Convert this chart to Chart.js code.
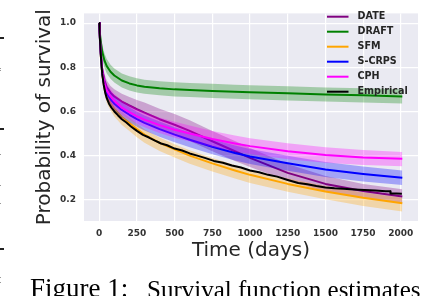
<!DOCTYPE html>
<html><head><meta charset="utf-8">
<script src="https://cdn.jsdelivr.net/npm/chart.js@4.4.1/dist/chart.umd.min.js"></script>
<style>
html,body{margin:0;padding:0;background:#fff;}
#wrap{position:relative;width:426px;height:296px;overflow:hidden;}
canvas{position:absolute;left:0;top:0;}
.cap{position:absolute;font-family:"Liberation Serif","Times New Roman",serif;color:#000;line-height:1;white-space:nowrap;}
.mk{position:absolute;background:#222;}
.dt{position:absolute;background:#999;width:1px;height:1px;left:0;}
</style></head>
<body><div id="wrap"><canvas id="c" width="426" height="296"></canvas>
<div class="cap" style="left:30px;top:275px;font-size:27px">Figure 1:</div>
<div class="cap" style="left:147px;top:277px;font-size:25px">Survival function estimates</div>
<div class="mk" style="left:0;top:37px;width:4px;height:1.5px"></div>
<div class="mk" style="left:0;top:128px;width:4px;height:1.5px"></div>
<div class="mk" style="left:0;top:248px;width:4px;height:1.5px"></div>
<div class="dt" style="top:68px"></div><div class="dt" style="top:70px"></div>
<div class="dt" style="top:154px"></div><div class="dt" style="top:185px"></div>
<div class="dt" style="top:203px"></div><div class="dt" style="top:277px"></div><div class="dt" style="top:282px"></div>
</div>
<script>
// ---- data ----
const seriesNames = ['DATE', 'DRAFT', 'SFM', 'S-CRPS', 'CPH', 'Empirical'];
const days = [0, 5, 10, 20, 35, 50, 75, 100, 150, 200, 250, 300, 400, 500, 600, 750, 900, 1000, 1250, 1500, 1750, 2010];

const dateMean  = [1.0,0.93,0.87,0.79,0.74,0.71,0.685,0.668,0.645,0.627,0.61,0.595,0.565,0.54,0.512,0.465,0.42,0.39,0.322,0.272,0.24,0.215];
const dateUpper = [1.0,0.95,0.89,0.815,0.77,0.74,0.715,0.70,0.68,0.665,0.652,0.64,0.612,0.588,0.56,0.512,0.466,0.434,0.362,0.308,0.272,0.248];
const dateLower = [1.0,0.91,0.85,0.765,0.71,0.68,0.655,0.636,0.61,0.59,0.57,0.552,0.52,0.494,0.466,0.42,0.376,0.348,0.285,0.238,0.208,0.186];

const draftMean  = [1.0,0.95,0.92,0.87,0.83,0.805,0.78,0.763,0.74,0.727,0.718,0.712,0.705,0.70,0.697,0.693,0.689,0.687,0.682,0.677,0.673,0.668];
const draftUpper = [1.0,0.97,0.945,0.90,0.862,0.838,0.812,0.795,0.772,0.759,0.75,0.744,0.737,0.732,0.729,0.725,0.721,0.719,0.714,0.709,0.705,0.70];
const draftLower = [1.0,0.93,0.895,0.84,0.798,0.772,0.748,0.731,0.708,0.695,0.686,0.68,0.673,0.668,0.665,0.661,0.657,0.655,0.65,0.645,0.641,0.636];

const sfmMean  = [1.0,0.92,0.855,0.765,0.705,0.67,0.638,0.612,0.575,0.548,0.52,0.495,0.458,0.428,0.40,0.365,0.333,0.313,0.272,0.238,0.209,0.184];
const sfmUpper = [1.0,0.94,0.875,0.785,0.727,0.693,0.661,0.636,0.599,0.572,0.544,0.519,0.482,0.452,0.424,0.389,0.357,0.337,0.296,0.262,0.233,0.209];
const sfmLower = [1.0,0.90,0.83,0.737,0.675,0.638,0.604,0.577,0.539,0.511,0.483,0.458,0.421,0.391,0.363,0.328,0.296,0.276,0.236,0.202,0.172,0.147];

const scrpsMean  = [1.0,0.92,0.86,0.77,0.715,0.683,0.655,0.635,0.607,0.585,0.565,0.548,0.52,0.495,0.472,0.44,0.412,0.396,0.365,0.337,0.317,0.30];
const scrpsUpper = [1.0,0.945,0.89,0.805,0.75,0.718,0.69,0.669,0.641,0.619,0.599,0.582,0.554,0.529,0.506,0.474,0.446,0.43,0.399,0.371,0.351,0.333];
const scrpsLower = [1.0,0.895,0.83,0.735,0.68,0.648,0.62,0.601,0.573,0.551,0.531,0.514,0.486,0.461,0.438,0.406,0.378,0.362,0.331,0.303,0.283,0.267];

const cphMean  = [1.0,0.93,0.87,0.78,0.725,0.695,0.668,0.648,0.617,0.597,0.578,0.563,0.538,0.517,0.50,0.475,0.455,0.443,0.42,0.403,0.392,0.386];
const cphUpper = [1.0,0.95,0.895,0.81,0.757,0.727,0.70,0.68,0.65,0.63,0.612,0.597,0.573,0.553,0.536,0.511,0.491,0.479,0.456,0.438,0.425,0.416];
const cphLower = [1.0,0.91,0.845,0.75,0.693,0.663,0.636,0.616,0.584,0.564,0.544,0.529,0.503,0.481,0.464,0.439,0.419,0.407,0.384,0.368,0.358,0.352];

const empDays = [0,3,7,12,20,30,40,50,65,80,100,125,150,180,210,250,290,330,370,410,450,500,550,600,650,700,760,820,880,940,1000,1060,1120,1180,1250,1320,1380,1440,1500,1560,1620,1690,1760,1830,1900,1930,1932,1970,2007];
const empSurv = [1.0,0.95,0.90,0.84,0.77,0.72,0.685,0.66,0.635,0.618,0.600,0.582,0.565,0.55,0.532,0.512,0.494,0.482,0.468,0.455,0.447,0.432,0.423,0.41,0.40,0.39,0.376,0.368,0.355,0.346,0.333,0.325,0.313,0.305,0.29,0.276,0.27,0.262,0.256,0.252,0.25,0.247,0.244,0.242,0.239,0.239,0.228,0.228,0.227];

const xTicks = [0, 250, 500, 750, 1000, 1250, 1500, 1750, 2000];
const yTicks = [0.2, 0.4, 0.6, 0.8, 1.0];

// ---- styles ----
const lineColors = ['#800080', '#008000', '#FFA500', '#0000FF', '#FF00FF', '#000000'];
const bandColors = ['rgba(128,0,128,0.3)', 'rgba(0,128,0,0.3)', 'rgba(255,165,0,0.3)', 'rgba(0,0,255,0.3)', 'rgba(255,0,255,0.3)'];

const models = [
  {mean: dateMean, lo: dateLower, hi: dateUpper},
  {mean: draftMean, lo: draftLower, hi: draftUpper},
  {mean: sfmMean, lo: sfmLower, hi: sfmUpper},
  {mean: scrpsMean, lo: scrpsLower, hi: scrpsUpper},
  {mean: cphMean, lo: cphLower, hi: cphUpper}
];
const toPts = (xs, ys) => xs.map((x, i) => ({x: x, y: ys[i]}));

const datasets = [];
models.forEach((m, i) => {
  const base = 100 - i * 10;
  datasets.push({label: '', data: toPts(days, m.lo), borderColor: 'rgba(0,0,0,0)', borderWidth: 0, pointRadius: 0, fill: false, order: base + 2});
  datasets.push({label: '', data: toPts(days, m.hi), borderColor: 'rgba(0,0,0,0)', borderWidth: 0, pointRadius: 0, fill: '-1', backgroundColor: bandColors[i], order: base + 1});
  datasets.push({label: seriesNames[i], data: toPts(days, m.mean), borderColor: lineColors[i], borderWidth: 2, pointRadius: 0, fill: false, order: base, borderJoinStyle: 'round'});
});
datasets.push({label: seriesNames[5], data: toPts(empDays, empSurv), borderColor: lineColors[5], borderWidth: 2, pointRadius: 0, fill: false, order: 0, borderJoinStyle: 'round'});

const bgPlugin = {
  id: 'plotBg',
  beforeDraw(chart) {
    const a = chart.chartArea, ctx = chart.ctx;
    ctx.save(); ctx.fillStyle = '#EAEAF2';
    ctx.fillRect(a.left, a.top, a.right - a.left, a.bottom - a.top);
    ctx.restore();
  }
};
const legendPlugin = {
  id: 'innerLegend',
  afterDatasetsDraw(chart) {
    const ctx = chart.ctx;
    ctx.save();
    ctx.font = 'bold 9.6px "DejaVu Sans"';
    ctx.textBaseline = 'middle';
    seriesNames.forEach((n, i) => {
      const y = 16.7 + i * 15;
      ctx.strokeStyle = lineColors[i]; ctx.lineWidth = 2;
      ctx.beginPath(); ctx.moveTo(327, y); ctx.lineTo(348.5, y); ctx.stroke();
      ctx.fillStyle = '#262626';
      ctx.fillText(n, 357.5, y);
    });
    ctx.restore();
  }
};

const tickFont = {family: 'DejaVu Sans', size: 9, weight: 'bold'};
new Chart(document.getElementById('c'), {
  type: 'line',
  data: {datasets: datasets},
  options: {
    responsive: false, animation: false, devicePixelRatio: 1,
    layout: {padding: {left: 0, top: 3, right: 8, bottom: 0}},
    plugins: {legend: {display: false}, tooltip: {enabled: false}},
    elements: {line: {tension: 0}},
    scales: {
      x: {
        type: 'linear', min: -101, max: 2114,
        afterBuildTicks: s => { s.ticks = xTicks.map(v => ({value: v})); },
        afterFit: s => { s.height = 75; },
        grid: {color: '#FFFFFF', lineWidth: 1.2, drawTicks: false},
        border: {display: false},
        ticks: {font: tickFont, color: '#333333', padding: 7, autoSkip: false, maxRotation: 0,
                callback: v => String(v)},
        title: {display: true, text: 'Time (days)', color: '#262626',
                font: {family: 'DejaVu Sans', size: 20, weight: 'normal'}, padding: {top: 0, bottom: 33}}
      },
      y: {
        type: 'linear', min: 0.104, max: 1.044,
        afterBuildTicks: s => { s.ticks = yTicks.map(v => ({value: v})); },
        afterFit: s => { s.width = 84; },
        grid: {color: '#FFFFFF', lineWidth: 1.2, drawTicks: false},
        border: {display: false},
        ticks: {font: tickFont, color: '#333333', padding: 8, callback: v => Number(v).toFixed(1)},
        title: {display: true, text: 'Probability of survival', color: '#262626',
                font: {family: 'DejaVu Sans', size: 20, weight: 'normal'}, padding: {top: 33, bottom: 0}}
      }
    }
  },
  plugins: [bgPlugin, legendPlugin]
});
</script>
</body></html>
